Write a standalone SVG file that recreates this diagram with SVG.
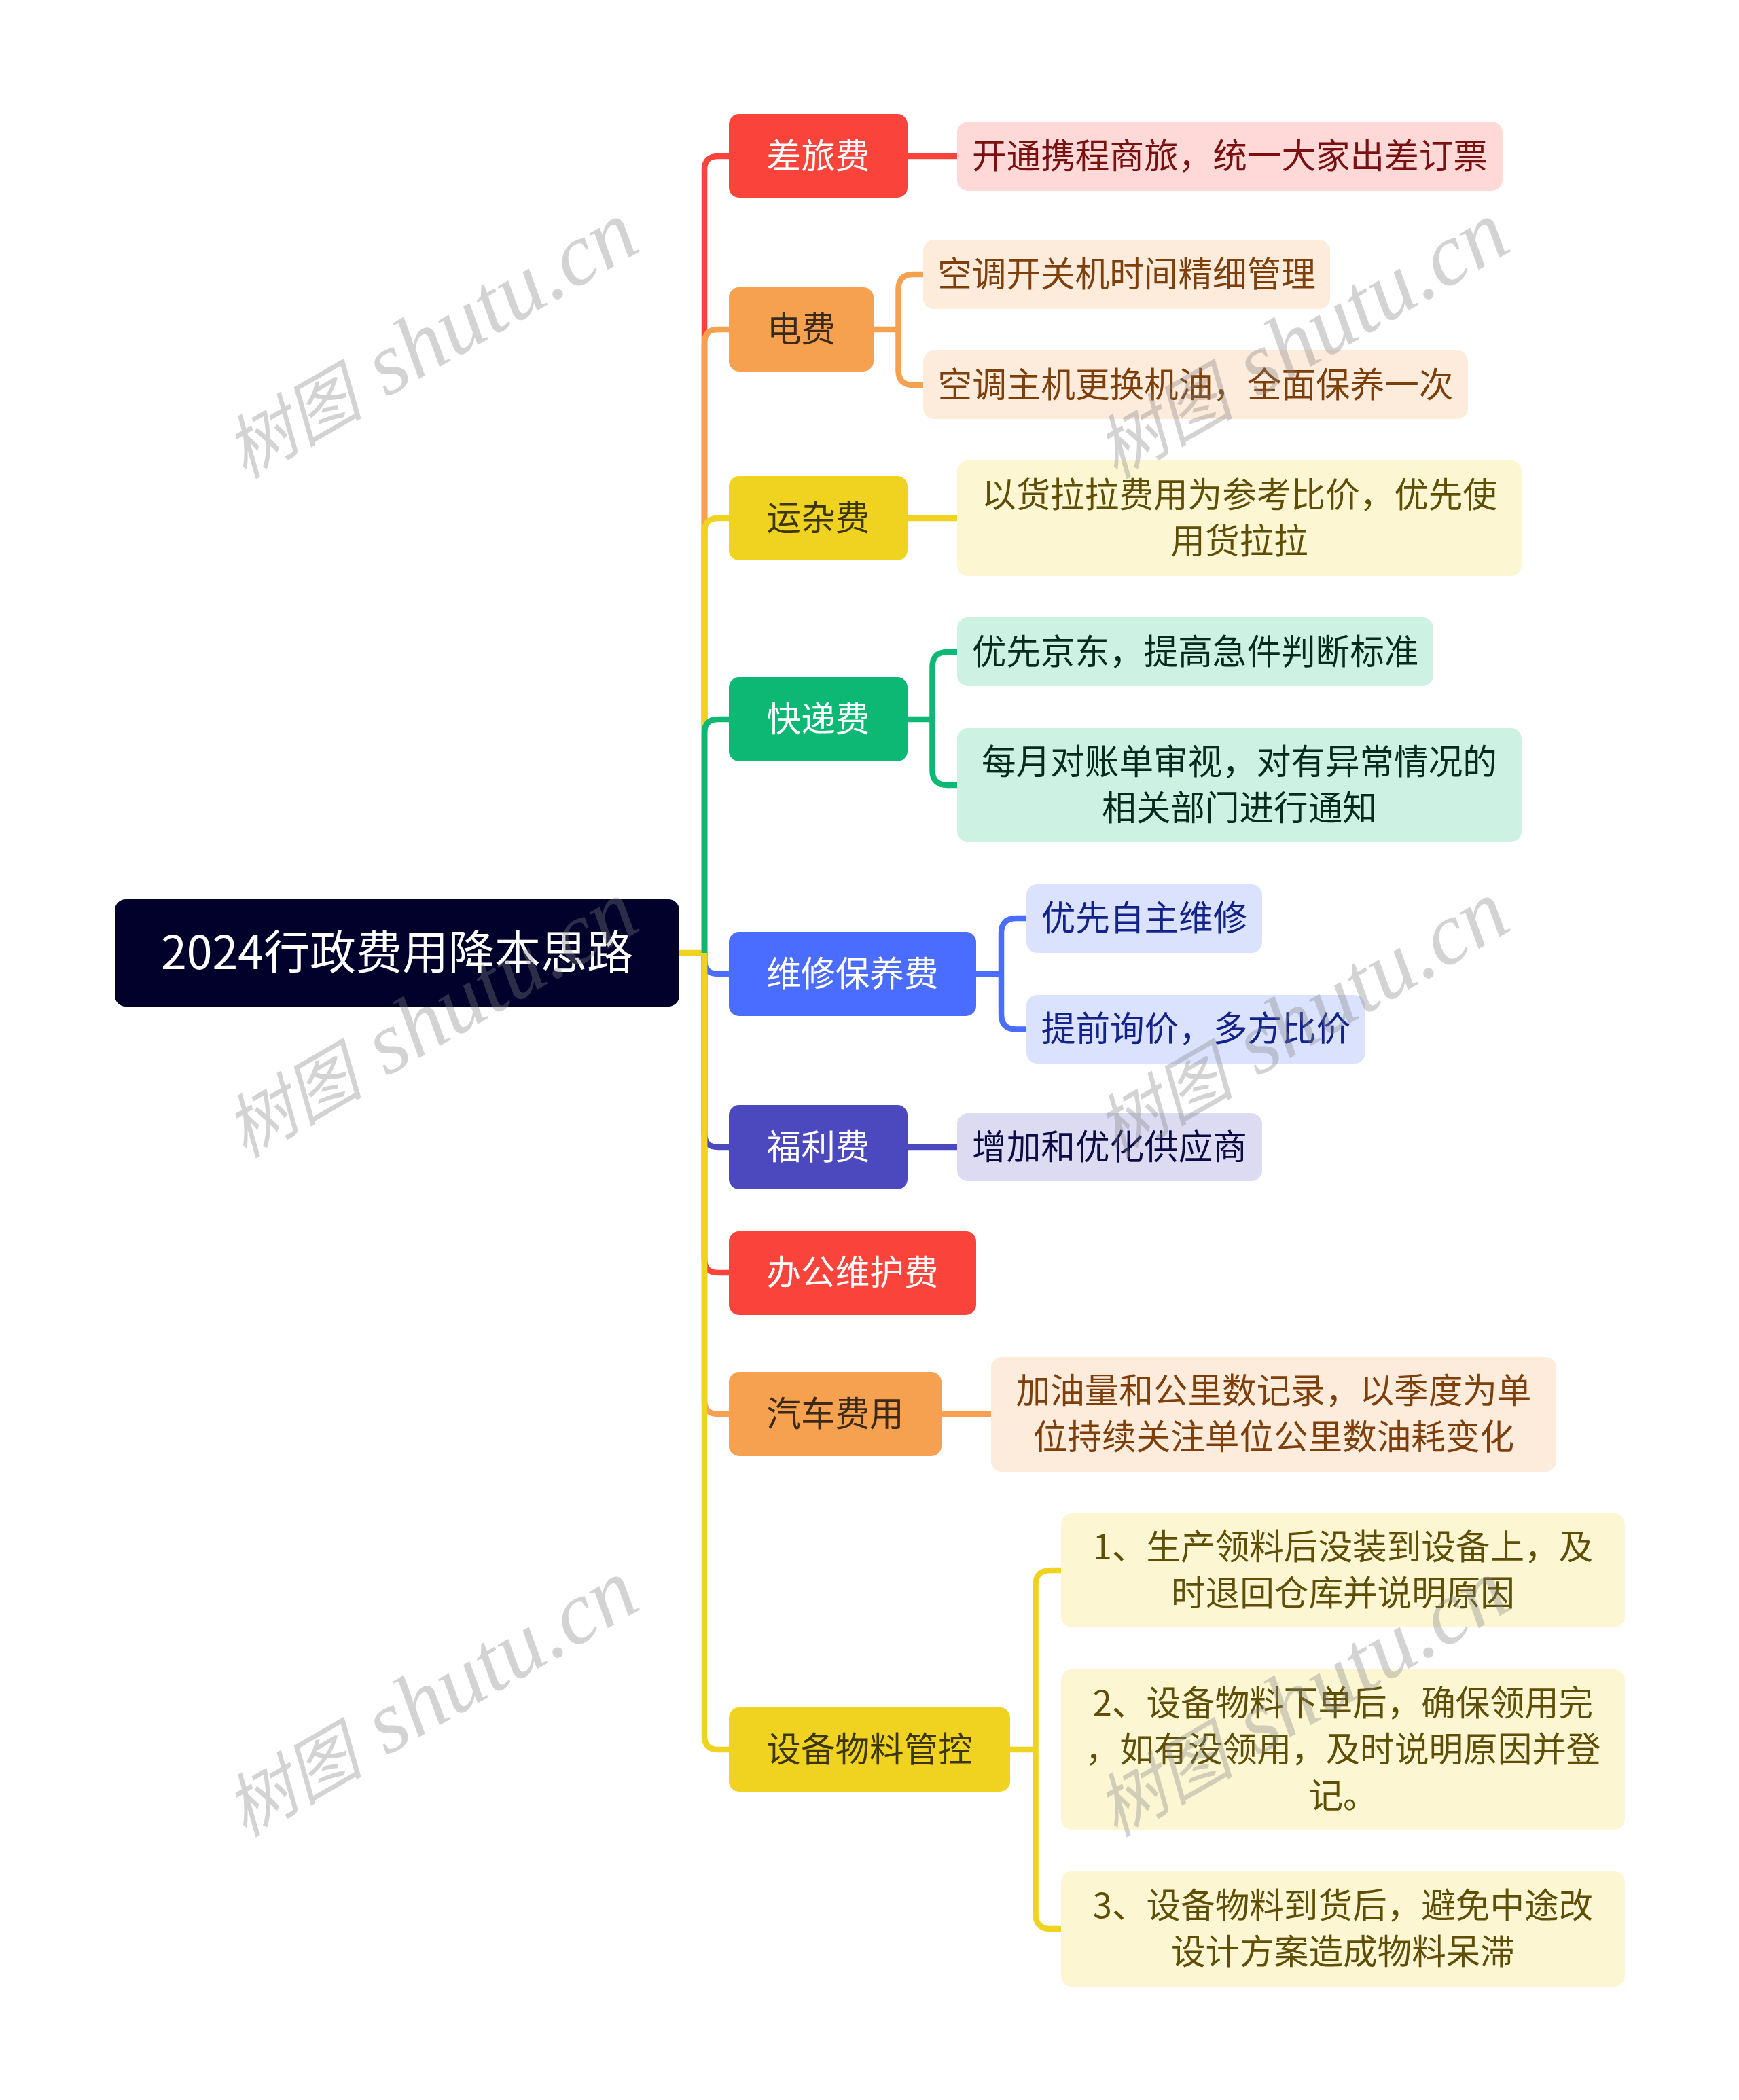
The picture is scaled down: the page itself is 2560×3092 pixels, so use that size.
<svg xmlns="http://www.w3.org/2000/svg" width="2560" height="3092" viewBox="0 0 2560 3092">
<style>
text{font-family:"Noto Sans CJK SC","Noto Sans",sans-serif;font-size:50.6px;text-anchor:middle}
.c{fill:none;stroke-width:8.5}
text.wm{font-family:"Noto Sans CJK SC",serif;font-size:102px;font-style:italic;fill:#808080;fill-opacity:.35;text-anchor:start}
.wm tspan{font-family:"Liberation Serif",serif;font-size:130px}
.w{fill:#fff}.d{fill:#3b2a18}.y{fill:#3d3608}
.lr{fill:#7a1010}.lo{fill:#7f3f0a}.ly{fill:#5f4e05}.lg{fill:#082b1f}.lb{fill:#13238a}.lp{fill:#0d0b45}
</style>
<rect width="2560" height="3092" fill="#fff"/>
<g id="connectors">
<path class="c" stroke="#4a6cff" d="M1037 1403V1414Q1037 1434 1057 1434H1073"/>
<path class="c" stroke="#4c48be" d="M1037 1403V1669Q1037 1689 1057 1689H1073"/>
<path class="c" stroke="#fa443b" d="M1037 1403V1854Q1037 1874 1057 1874H1073"/>
<path class="c" stroke="#f5a14f" d="M1037 1403V2062Q1037 2082 1057 2082H1073"/>
<path class="c" stroke="#f0d321" d="M1000 1403H1037V2556Q1037 2576 1057 2576H1073"/>
<path class="c" stroke="#fa443b" d="M1037 1403V250Q1037 230 1057 230H1073"/>
<path class="c" stroke="#f5a14f" d="M1037 1403V505Q1037 485 1057 485H1073"/>
<path class="c" stroke="#f0d321" d="M1037 1403V783Q1037 763 1057 763H1073"/>
<path class="c" stroke="#0cb874" d="M1037 1403V1079Q1037 1059 1057 1059H1073"/>
<path class="c" stroke="#fa443b" d="M1336 230H1409"/>
<path class="c" stroke="#f5a14f" d="M1286 485H1322.500M1359 404H1344.500Q1322.500 404 1322.500 426V545Q1322.500 567 1344.500 567H1359"/>
<path class="c" stroke="#f0d321" d="M1336 763H1409"/>
<path class="c" stroke="#0cb874" d="M1336 1059H1372.500M1409 960H1394.500Q1372.500 960 1372.500 982V1134Q1372.500 1156 1394.500 1156H1409"/>
<path class="c" stroke="#4a6cff" d="M1437 1434H1474M1511 1352H1496Q1474 1352 1474 1374V1493.500Q1474 1515.500 1496 1515.500H1511"/>
<path class="c" stroke="#4c48be" d="M1336 1689H1409"/>
<path class="c" stroke="#f5a14f" d="M1386 2082H1459"/>
<path class="c" stroke="#f0d321" d="M1487 2576H1524.500M1562 2312H1546.500Q1524.500 2312 1524.500 2334V2818Q1524.500 2840 1546.500 2840H1562"/>
</g>
<g id="root"><rect x="169" y="1324" width="831" height="158" rx="16" fill="#01012b"/><text x="584.500" y="1427" class="w" style="font-size:68px">2024行政费用降本思路</text></g>
<g id="n1"><rect x="1073" y="168" width="263" height="123" rx="15" fill="#fa443b"/><text x="1204.500" y="248" class="w">差旅费</text></g>
<g id="n1a"><rect x="1409" y="179" width="803" height="102" rx="16" fill="#ffd9d8"/><text x="1810.500" y="248" class="lr">开通携程商旅，统一大家出差订票</text></g>
<g id="n2"><rect x="1073" y="423" width="213" height="124" rx="15" fill="#f5a14f"/><text x="1179.500" y="503" class="d">电费</text></g>
<g id="n2a"><rect x="1359" y="353" width="599" height="102" rx="16" fill="#fdebdc"/><text x="1658.500" y="422" class="lo">空调开关机时间精细管理</text></g>
<g id="n2b"><rect x="1359" y="516" width="802" height="101" rx="16" fill="#fdebdc"/><text x="1760" y="585" class="lo">空调主机更换机油，全面保养一次</text></g>
<g id="n3"><rect x="1073" y="701" width="263" height="124" rx="15" fill="#f0d321"/><text x="1204.500" y="781" class="y">运杂费</text></g>
<g id="n3a"><rect x="1409" y="678" width="831" height="170" rx="16" fill="#fcf6d3"/><text x="1824.500" y="747" class="ly">以货拉拉费用为参考比价，优先使</text><text x="1824.500" y="815" class="ly">用货拉拉</text></g>
<g id="n4"><rect x="1073" y="997" width="263" height="124" rx="15" fill="#0cb874"/><text x="1204.500" y="1077" class="w">快递费</text></g>
<g id="n4a"><rect x="1409" y="909" width="701" height="101" rx="16" fill="#cdf1e3"/><text x="1759.500" y="978" class="lg">优先京东，提高急件判断标准</text></g>
<g id="n4b"><rect x="1409" y="1072" width="831" height="168" rx="16" fill="#cdf1e3"/><text x="1824.500" y="1140" class="lg">每月对账单审视，对有异常情况的</text><text x="1824.500" y="1208" class="lg">相关部门进行通知</text></g>
<g id="n5"><rect x="1073" y="1372" width="364" height="124" rx="15" fill="#4a6cff"/><text x="1255" y="1452" class="w">维修保养费</text></g>
<g id="n5a"><rect x="1511" y="1302" width="347" height="101" rx="16" fill="#dbe2fd"/><text x="1684.500" y="1370" class="lb">优先自主维修</text></g>
<g id="n5b"><rect x="1511" y="1465" width="499" height="101" rx="16" fill="#dbe2fd"/><text x="1760.500" y="1533" class="lb">提前询价，多方比价</text></g>
<g id="n6"><rect x="1073" y="1627" width="263" height="124" rx="15" fill="#4c48be"/><text x="1204.500" y="1707" class="w">福利费</text></g>
<g id="n6a"><rect x="1409" y="1639" width="449" height="100" rx="16" fill="#dcdbf2"/><text x="1633.500" y="1707" class="lp">增加和优化供应商</text></g>
<g id="n7"><rect x="1073" y="1813" width="364" height="123" rx="15" fill="#fa443b"/><text x="1255" y="1892" class="w">办公维护费</text></g>
<g id="n8"><rect x="1073" y="2020" width="313" height="124" rx="15" fill="#f5a14f"/><text x="1229.500" y="2100" class="d">汽车费用</text></g>
<g id="n8a"><rect x="1459" y="1998" width="832" height="169" rx="16" fill="#fdebdc"/><text x="1875" y="2066" class="lo">加油量和公里数记录，以季度为单</text><text x="1875" y="2134" class="lo">位持续关注单位公里数油耗变化</text></g>
<g id="n9"><rect x="1073" y="2514" width="414" height="124" rx="15" fill="#f0d321"/><text x="1280" y="2594" class="y">设备物料管控</text></g>
<g id="n9a"><rect x="1562" y="2228" width="830" height="168" rx="16" fill="#fcf6d3"/><text x="1977" y="2296" class="ly">1、生产领料后没装到设备上，及</text><text x="1977" y="2364" class="ly">时退回仓库并说明原因</text></g>
<g id="n9b"><rect x="1562" y="2458" width="830" height="236" rx="16" fill="#fcf6d3"/><text x="1977" y="2526" class="ly">2、设备物料下单后，确保领用完</text><text x="1977" y="2594" class="ly">，如有没领用，及时说明原因并登</text><text x="1977" y="2662" class="ly">记。</text></g>
<g id="n9c"><rect x="1562" y="2755" width="830" height="170" rx="16" fill="#fcf6d3"/><text x="1977" y="2824" class="ly">3、设备物料到货后，避免中途改</text><text x="1977" y="2892" class="ly">设计方案造成物料呆滞</text></g>
<g id="watermarks">
<text class="wm" transform="translate(360 706) rotate(-30)">树图 <tspan dx="14">shutu.cn</tspan></text>
<text class="wm" transform="translate(1642 706) rotate(-30)">树图 <tspan dx="14">shutu.cn</tspan></text>
<text class="wm" transform="translate(360 1706) rotate(-30)">树图 <tspan dx="14">shutu.cn</tspan></text>
<text class="wm" transform="translate(1642 1706) rotate(-30)">树图 <tspan dx="14">shutu.cn</tspan></text>
<text class="wm" transform="translate(360 2706) rotate(-30)">树图 <tspan dx="14">shutu.cn</tspan></text>
<text class="wm" transform="translate(1642 2706) rotate(-30)">树图 <tspan dx="14">shutu.cn</tspan></text>
</g>
</svg>
